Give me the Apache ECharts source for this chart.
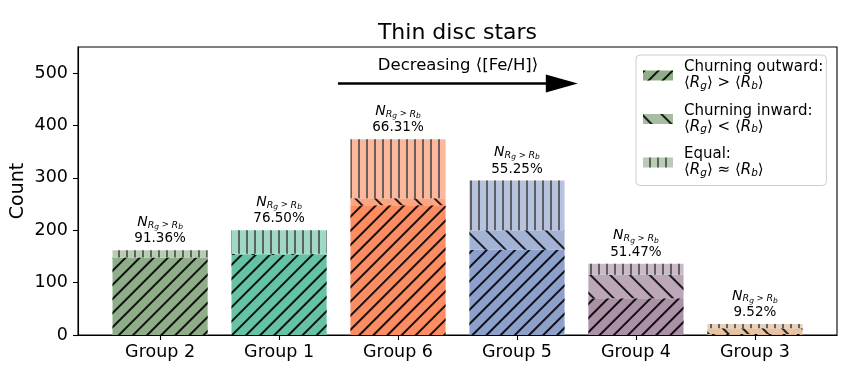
<!DOCTYPE html>
<html><head><meta charset="utf-8">
<script src="https://cdn.jsdelivr.net/npm/echarts@6/dist/echarts.min.js"></script>
<style>html,body{margin:0;padding:0;background:#fff}#c{width:862px;height:385px}</style>
</head><body><div id="c"></div>
<script>
// ---- data ----
const categories = ['Group 2', 'Group 1', 'Group 6', 'Group 5', 'Group 4', 'Group 3'];
const outward = [148, 153, 248, 163, 70, 2];
const inward = [0, 2, 13, 37, 45, 11];
const equal = [14, 45, 113, 95, 21, 8];
const pctLabels = ['91.36%', '76.50%', '66.31%', '55.25%', '51.47%', '9.52%'];
const yTicks = [0, 100, 200, 300, 400, 500];
const arrowStart = [1.495, 480.5];
const arrowEnd = [3.377, 480.5];

// ---- styles ----
const baseColors = ['#90ad89', '#66c2a5', '#fc8d62', '#8da0cb', '#aa91a5', '#e0b48e'];
const FONT = 'DejaVu Sans';
function mix(hex, t) {
  const n = parseInt(hex.slice(1), 16);
  const r = (n >> 16) & 255, g = (n >> 8) & 255, b = n & 255;
  const f = c => Math.round(c + (255 - c) * t);
  return 'rgb(' + f(r) + ',' + f(g) + ',' + f(b) + ')';
}
const tOut = 0.0, tIn = 0.2, tEq = 0.37;
function decal(rot, gap, color, w) {
  return { symbol: 'rect', symbolSize: 1, dashArrayX: [1, 0], dashArrayY: [w, gap], rotation: rot, color: color };
}
const PL = 78, PR = 837, PT = 47, PB = 335;
const unit = (PR - PL) / 6.38;
const inset = (0.69 - 0.5) * unit;

const chart = echarts.init(document.getElementById('c'));

const subRich = {
  n: { fontFamily: FONT, fontStyle: 'italic', fontSize: 14, color: '#000', lineHeight: 16 },
  s: { fontFamily: FONT, fontStyle: 'italic', fontSize: 9.5, color: '#000', padding: [6, 0, 0, 0] },
  ss: { fontFamily: FONT, fontStyle: 'italic', fontSize: 7.5, color: '#000', padding: [10, 0, 0, 0] },
  op: { fontFamily: FONT, fontSize: 8.5, color: '#000', padding: [6, 0, 0, 0] },
  p: { fontFamily: FONT, fontSize: 13.5, color: '#000', lineHeight: 15 }
};

const legendText = {
  outward: '{t|Churning outward:}\n{m|⟨}{i|R}{sub|g}{m|⟩ > ⟨}{i|R}{sub|b}{m|⟩}',
  inward: '{t|Churning inward:}\n{m|⟨}{i|R}{sub|g}{m|⟩ < ⟨}{i|R}{sub|b}{m|⟩}',
  equal: '{t|Equal:}\n{m|⟨}{i|R}{sub|g}{m|⟩ ≈ ⟨}{i|R}{sub|b}{m|⟩}'
};

function itemData(arr, t) {
  return arr.map((v, i) => ({ value: v, itemStyle: { color: mix(baseColors[i], t) } }));
}

const option = {
  animation: false,
  backgroundColor: '#fff',
  title: [
    { text: 'Thin disc stars', left: (PL + PR) / 2, top: 22, textAlign: 'center', padding: 0,
      textStyle: { fontFamily: FONT, fontSize: 22, fontWeight: 'normal', color: '#000' } },
    { text: 'Decreasing ⟨[Fe/H]⟩', left: 458, top: 57, textAlign: 'center', padding: 0,
      textStyle: { fontFamily: FONT, fontSize: 16.5, fontWeight: 'normal', color: '#000' } }
  ],
  grid: [
    { left: PL, right: 862 - PR, top: PT, bottom: 385 - PB, outerBoundsMode: 'none', containLabel: false,
      show: true, borderColor: '#000', borderWidth: 1.1, backgroundColor: 'transparent' },
    { left: PL + inset, right: 862 - PR + inset, top: PT, bottom: 385 - PB, outerBoundsMode: 'none', containLabel: false }
  ],
  xAxis: [
    { type: 'value', gridIndex: 0, min: -0.69, max: 5.69, z: 10,
      axisLine: { show: true, onZero: false, lineStyle: { color: '#000', width: 1.1 } },
      axisTick: { show: false }, axisLabel: { show: false }, splitLine: { show: false } },
    { type: 'category', gridIndex: 1, data: categories, z: 10,
      axisLine: { show: false },
      axisTick: { show: true, alignWithLabel: true, length: 5, lineStyle: { color: '#000', width: 1.1 } },
      axisLabel: { fontFamily: FONT, fontSize: 17.5, color: '#000', margin: 8 } }
  ],
  yAxis: [
    { type: 'value', gridIndex: 0, min: 0, max: 550,
      name: 'Count', nameLocation: 'middle', nameGap: 50, nameMoveOverlap: false,
      nameTextStyle: { fontFamily: FONT, fontSize: 19, color: '#000' },
      axisLine: { show: true, onZero: false, lineStyle: { color: '#000', width: 1.1 } },
      axisTick: { show: true, length: 5, customValues: yTicks, lineStyle: { color: '#000', width: 1.1 } },
      axisLabel: { customValues: yTicks, fontFamily: FONT, fontSize: 17.5, color: '#000', margin: 10 },
      splitLine: { show: false } },
    { type: 'value', gridIndex: 1, min: 0, max: 550, show: false,
      axisLine: { show: false, onZero: false }, splitLine: { show: false } }
  ],
  legend: {
    orient: 'vertical', left: 636, top: 55, itemWidth: 30, itemHeight: 10, itemGap: 12,
    padding: [5, 3, 7, 7], backgroundColor: 'rgba(255,255,255,0.85)', borderColor: '#cccccc',
    borderWidth: 1, borderRadius: 4, icon: 'rect',
    data: ['outward', 'inward', 'equal'],
    formatter: name => legendText[name],
    textStyle: {
      fontFamily: FONT, fontSize: 15, color: '#000', padding: [0, 0, 0, 6],
      rich: {
        t: { fontFamily: FONT, fontSize: 15, color: '#000', lineHeight: 16 },
        m: { fontFamily: FONT, fontSize: 15, color: '#000', lineHeight: 16 },
        i: { fontFamily: FONT, fontSize: 15, fontStyle: 'italic', color: '#000', lineHeight: 16 },
        sub: { fontFamily: FONT, fontSize: 10.5, fontStyle: 'italic', color: '#000', padding: [5, 0, 0, 0] }
      }
    }
  },
  series: [
    { name: 'outward', type: 'bar', xAxisIndex: 1, yAxisIndex: 1, stack: 's', barWidth: '80%',
      itemStyle: { color: mix(baseColors[0], tOut), decal: decal(-Math.PI / 4, 7.3, 'rgba(0,0,0,0.9)', 1.2) },
      data: itemData(outward, tOut) },
    { name: 'inward', type: 'bar', xAxisIndex: 1, yAxisIndex: 1, stack: 's', barWidth: '80%',
      itemStyle: { color: mix(baseColors[0], tIn), decal: decal(Math.PI / 4, 11.5, 'rgba(0,0,0,0.85)', 1.2) },
      data: itemData(inward, tIn) },
    { name: 'equal', type: 'bar', xAxisIndex: 1, yAxisIndex: 1, stack: 's', barWidth: '80%',
      itemStyle: { color: mix(baseColors[0], tEq), decal: decal(Math.PI / 2, 6, 'rgba(70,70,70,0.8)', 1.3) },
      label: { show: true, position: 'top', distance: 4, align: 'center',
        formatter: p => '{n|N}{s|R}{ss|g}{op| > }{s|R}{ss|b}\n{p|' + pctLabels[p.dataIndex] + '}',
        rich: subRich },
      data: itemData(equal, tEq) },
    { name: 'arrow', type: 'line', xAxisIndex: 0, yAxisIndex: 0, data: [], silent: true,
      markLine: { silent: true, symbol: ['none', 'triangle'], symbolSize: [18, 32],
        lineStyle: { color: '#000', width: 2.6, type: 'solid' },
        itemStyle: { color: '#000' },
        label: { show: false },
        data: [[{ coord: arrowStart }, { coord: arrowEnd }]] } }
  ]
};
chart.setOption(option);
</script>
</body></html>
